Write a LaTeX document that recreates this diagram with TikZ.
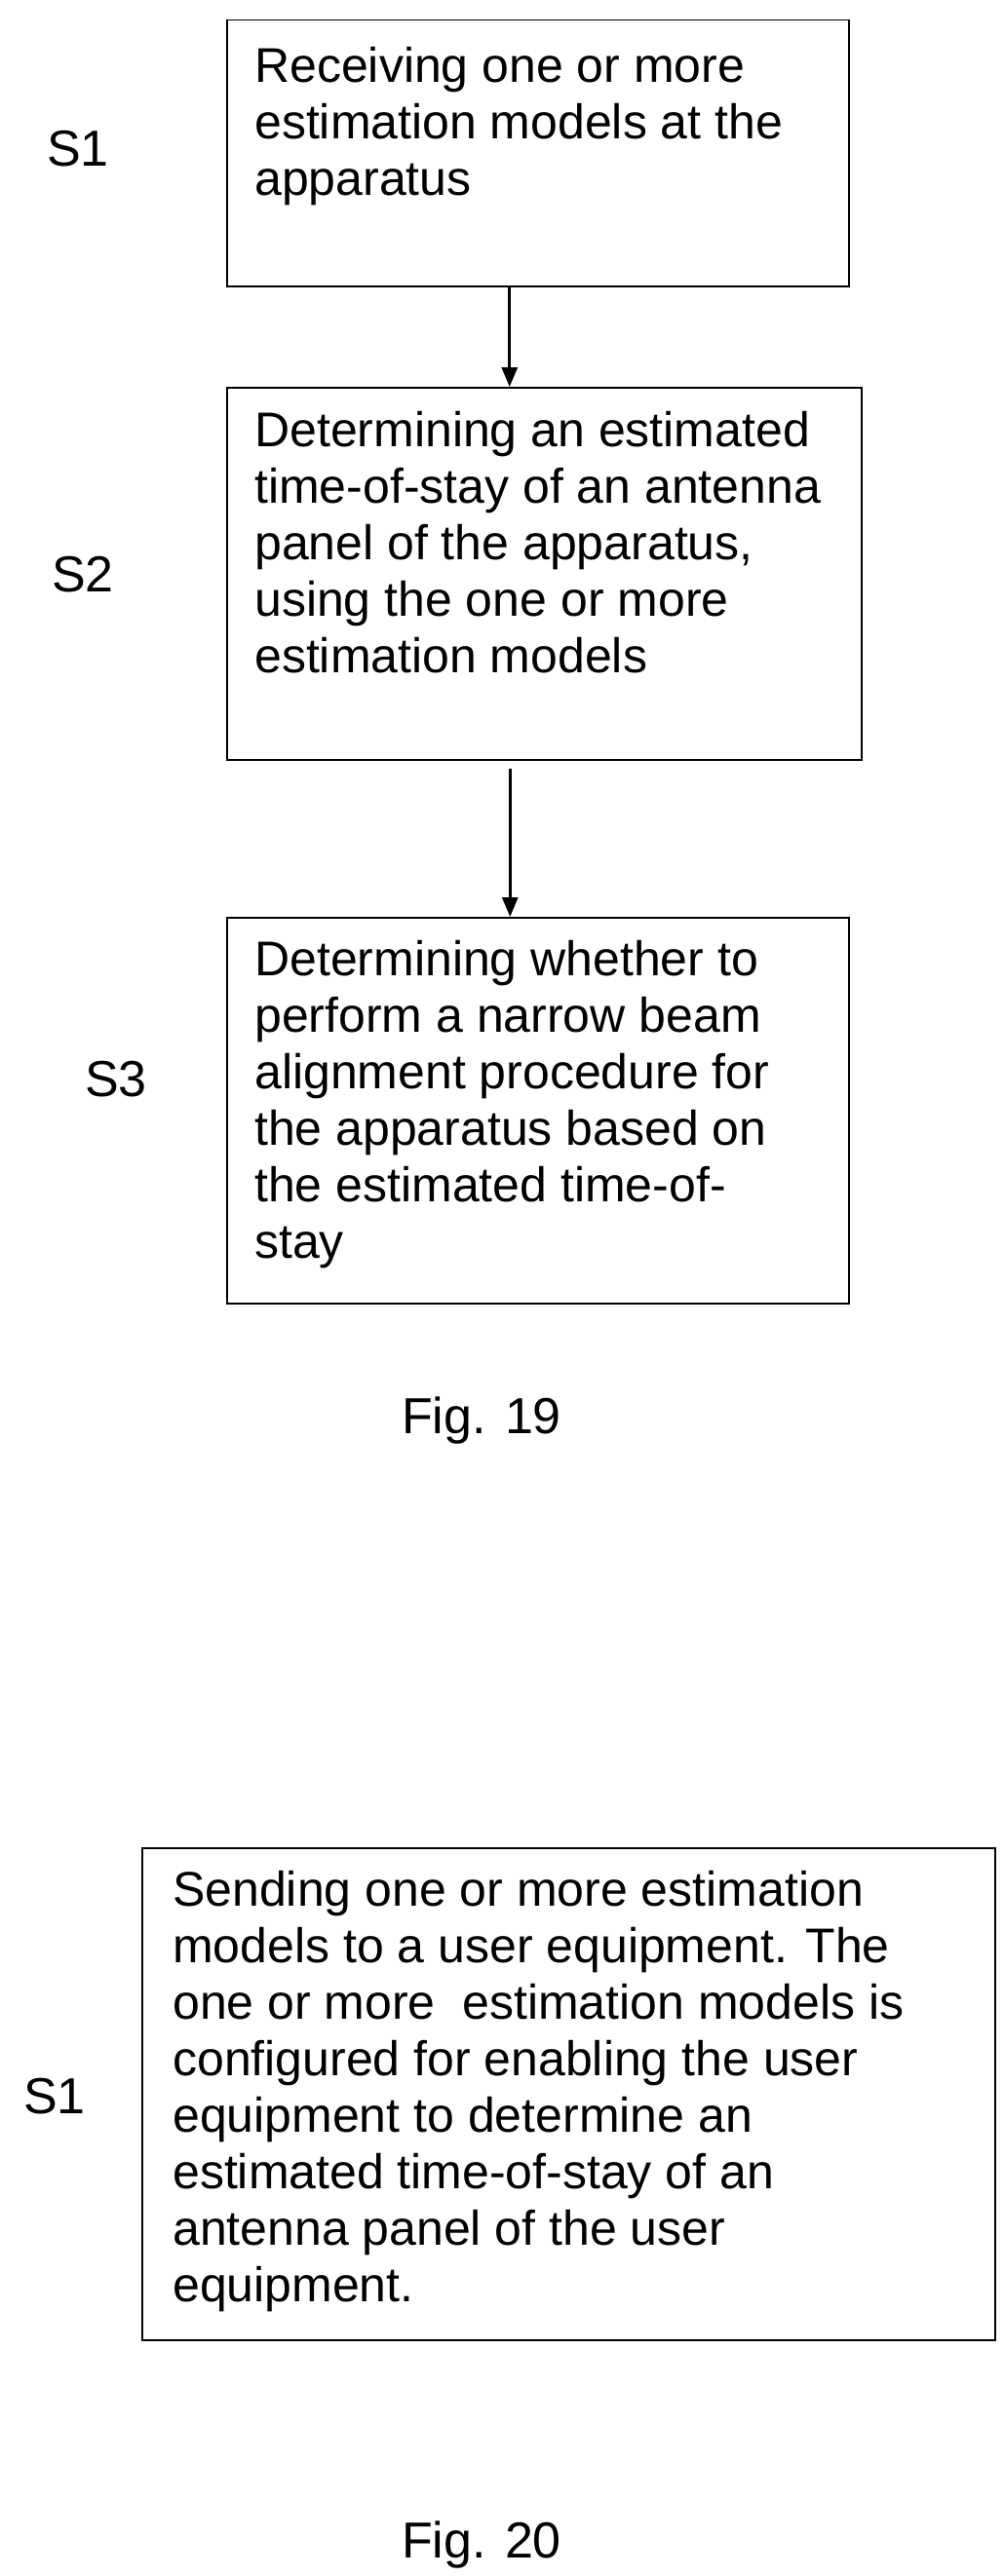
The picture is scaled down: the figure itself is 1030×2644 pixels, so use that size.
\documentclass[tikz,border=0pt]{standalone}
\usepackage{fontspec}
\setmainfont{Liberation Sans}
\usetikzlibrary{arrows.meta}
\begin{document}
\begin{tikzpicture}[x=1pt,y=-1pt,
  box/.style={draw,line width=1.5pt,anchor=north west,inner sep=0},
  txt/.style={anchor=north west,inner sep=0,align=left,font=\fontsize{50}{58}\selectfont},
  lbl/.style={font=\fontsize{52}{60}\selectfont},
  arr/.style={line width=3pt,-{Triangle[length=20pt,width=16pt]}}]
\useasboundingbox (0,0) rectangle (1030,2644);
\node[box,minimum width=638pt,minimum height=273pt] (b1) at (232,20) {};
\node[box,minimum width=651pt,minimum height=382pt] (b2) at (232,397) {};
\node[box,minimum width=638pt,minimum height=396pt] (b3) at (232,941) {};
\node[box,minimum width=875pt,minimum height=505pt] (b4) at (145,1896) {};
\node[txt] (t1) at (261,48) {Receiving one or more\\estimation models at the\\apparatus};
\node[txt] (t2) at (261,422) {Determining an estimated\\time-of-stay of an antenna\\panel of the apparatus,\\using the one or more\\estimation models};
\node[txt] (t3) at (261,965) {Determining whether to\\perform a narrow beam\\alignment procedure for\\the apparatus based on\\the estimated time-of-\\stay};
\node[txt] (t4) at (177,1920) {Sending one or more estimation\\models to a user equipment. The\\one or more\ \ estimation models is\\configured for enabling the user\\equipment to determine an\\estimated time-of-stay of an\\antenna panel of the user\\equipment.};
\node[lbl] (s1) at (80,153) {S1};
\node[lbl] (s2) at (85,590) {S2};
\node[lbl] (s3) at (119,1108) {S3};
\node[lbl] (s4) at (56,2152) {S1};
\node[lbl] (f19) at (494,1458) {Fig. 19};
\node[lbl] (f20) at (494,2612) {Fig. 20};
\draw[arr] ([xshift=-29pt]b1.south) -- ([xshift=-29pt]b1.south |- b2.north);
\draw[arr] ([xshift=-35pt,yshift=-8pt]b2.south) -- ([xshift=-35pt]b2.south |- b3.north);
\end{tikzpicture}
\end{document}
